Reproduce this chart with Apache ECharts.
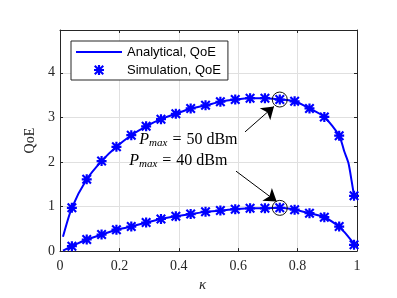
<!DOCTYPE html>
<html><head><meta charset="utf-8">
<script src="https://cdn.jsdelivr.net/npm/echarts@6/dist/echarts.min.js"></script>
<style>html,body{margin:0;padding:0;background:#fff}#c{width:397px;height:298px}</style>
</head><body><div id="c"></div>
<script>
// ---- data ----
const kappaSim = [0.04,0.09,0.14,0.19,0.24,0.29,0.34,0.39,0.44,0.49,0.54,0.59,0.64,0.69,0.74,0.79,0.84,0.89,0.94,0.99];
const qoe50Sim = [0.97,1.61,2.02,2.34,2.60,2.80,2.96,3.08,3.20,3.27,3.35,3.40,3.43,3.43,3.40,3.36,3.20,3.01,2.59,1.24];
const qoe40Sim = [0.11,0.26,0.37,0.48,0.55,0.64,0.72,0.78,0.83,0.88,0.91,0.94,0.96,0.96,0.97,0.93,0.85,0.76,0.55,0.14];
const kappaLine = [0.01,0.04,0.09,0.14,0.19,0.24,0.29,0.34,0.39,0.44,0.49,0.54,0.59,0.64,0.69,0.74,0.79,0.84,0.89,0.94,0.957,0.971,0.982,0.99];
const qoe50Line = [0.32,0.97,1.61,2.02,2.34,2.60,2.80,2.96,3.08,3.20,3.27,3.35,3.40,3.43,3.43,3.40,3.36,3.20,3.01,2.59,2.24,1.98,1.57,1.24];
const qoe40Line = [0.01,0.11,0.26,0.37,0.48,0.55,0.64,0.72,0.78,0.83,0.88,0.91,0.94,0.96,0.96,0.97,0.93,0.85,0.76,0.55,0.43,0.32,0.23,0.14];
const xTickLabels = ['0','0.2','0.4','0.6','0.8','1'];
const yTickLabels = ['0','1','2','3','4'];
const seriesNames = ['Analytical, QoE','Simulation, QoE'];
const annoText = ['50 dBm','40 dBm'];
// annotation anchors (data coords)
const peakIndex = 14;
const labelPos = [[0.267,2.49],[0.233,2.03]];
const arrows = [[[0.623,2.674],[0.7205,3.246]],[[0.5926,1.794],[0.7296,1.110]]];

const BLUE = '#0000ff', AX = '#262626';
const STAR = 'path://M0,3.9L10,3.9L10,6.1L0,6.1Z M3.9,0L6.1,0L6.1,10L3.9,10Z M1.5,0L10,8.5L8.5,10L0,1.5Z M8.5,0L10,1.5L1.5,10L0,8.5Z';
const LINEICON = 'path://M0,0L46,0L46,2L0,2Z';
const SERIF = 'Liberation Serif';
const zip = (xs, ys) => xs.map((x, i) => [x, ys[i]]);

const xBase = {type:'value', min:0, max:1, interval:0.2,
  axisLine:{show:true, onZero:false, lineStyle:{color:AX, width:1}},
  axisTick:{show:true, inside:true, length:3, lineStyle:{color:AX}}};
const yBase = {type:'value', min:0, max:4.96, interval:1,
  axisLine:{show:true, onZero:false, lineStyle:{color:AX, width:1}},
  axisTick:{show:true, inside:true, length:3, lineStyle:{color:AX}}};

const richStyle = {
  p:{fontFamily:SERIF, fontStyle:'italic', fontSize:16, lineHeight:18, color:'#000'},
  s:{fontFamily:SERIF, fontStyle:'italic', fontSize:11, lineHeight:10, verticalAlign:'bottom', color:'#000'},
  e:{fontFamily:SERIF, fontSize:16, lineHeight:18, color:'#000', padding:[0,5,0,5]},
  t:{fontFamily:SERIF, fontSize:16, lineHeight:18, color:'#000'}
};

const chart = echarts.init(document.getElementById('c'), null, {renderer:'canvas'});
chart.setOption({
  animation:false,
  backgroundColor:'#fff',
  grid:{left:60, right:40, top:30, bottom:46, containLabel:false},
  legend:{
    orient:'vertical', left:71, top:41, padding:[4,7,3,5],
    backgroundColor:'#fff', borderColor:AX, borderWidth:1, borderRadius:0,
    itemWidth:46, itemHeight:10, itemGap:4,
    textStyle:{fontFamily:'Liberation Sans', fontSize:13, color:'#000', lineHeight:14},
    data:[{name:seriesNames[0], icon:LINEICON, itemStyle:{color:BLUE}},
          {name:seriesNames[1], icon:STAR, itemStyle:{color:BLUE}}]
  },
  xAxis:[
    Object.assign({}, xBase, {position:'bottom',
      name:'κ', nameLocation:'middle', nameGap:25,
      nameTextStyle:{fontFamily:SERIF, fontStyle:'italic', fontSize:15, color:AX, padding:[0,12,0,0]},
      axisLabel:{margin:8, fontFamily:SERIF, fontSize:14, color:AX,
        formatter:v => xTickLabels[Math.round(v/0.2)] ?? ''},
      splitLine:{show:true, lineStyle:{color:'#e0e0e0', width:1}}}),
    Object.assign({}, xBase, {position:'top', axisLabel:{show:false}, splitLine:{show:false}})
  ],
  yAxis:[
    Object.assign({}, yBase, {position:'left',
      name:'QoE', nameLocation:'middle', nameGap:11,
      nameTextStyle:{fontFamily:SERIF, fontSize:14, color:AX},
      axisLabel:{margin:5, fontFamily:SERIF, fontSize:14, color:AX,
        formatter:v => (Number.isInteger(v) && yTickLabels[v] !== undefined) ? yTickLabels[v] : ''},
      splitLine:{show:true, lineStyle:{color:'#e0e0e0', width:1}}}),
    Object.assign({}, yBase, {position:'right', axisLabel:{show:false}, splitLine:{show:false}})
  ],
  series:[
    {name:seriesNames[0], type:'line', data:zip(kappaLine, qoe50Line), showSymbol:false, symbol:'none',
     smooth:0.25, lineStyle:{color:BLUE, width:2}, itemStyle:{color:BLUE}, z:2},
    {name:seriesNames[0], type:'line', data:zip(kappaLine, qoe40Line), showSymbol:false, symbol:'none',
     smooth:0.25, lineStyle:{color:BLUE, width:2}, itemStyle:{color:BLUE}, z:2},
    {name:seriesNames[1], type:'scatter', data:zip(kappaSim, qoe50Sim), symbol:STAR, symbolSize:10,
     itemStyle:{color:BLUE, opacity:1}, z:3,
     markPoint:{silent:true, animation:false, data:[
       {coord:[kappaSim[peakIndex], qoe50Sim[peakIndex]], symbol:'circle', symbolSize:15,
        itemStyle:{color:'rgba(0,0,0,0)', borderColor:'#111', borderWidth:1}, label:{show:false}},
       {coord:[kappaSim[peakIndex], qoe40Sim[peakIndex]], symbol:'circle', symbolSize:15,
        itemStyle:{color:'rgba(0,0,0,0)', borderColor:'#111', borderWidth:1}, label:{show:false}},
       {coord:labelPos[0], symbol:'circle', symbolSize:0,
        label:{show:true, position:'right', distance:0, formatter:'{p|P}{s|max}{e|=}{t|'+annoText[0]+'}', rich:richStyle}},
       {coord:labelPos[1], symbol:'circle', symbolSize:0,
        label:{show:true, position:'right', distance:0, formatter:'{p|P}{s|max}{e|=}{t|'+annoText[1]+'}', rich:richStyle}}
     ]},
     markLine:{silent:true, animation:false, symbol:['none','arrow'], symbolSize:12,
       lineStyle:{color:'#000', width:1, type:'solid'}, itemStyle:{color:'#000'}, label:{show:false},
       data:arrows.map(a => [{coord:a[0]},{coord:a[1]}])}
    },
    {name:seriesNames[1], type:'scatter', data:zip(kappaSim, qoe40Sim), symbol:STAR, symbolSize:10,
     itemStyle:{color:BLUE, opacity:1}, z:3}
  ]
});
</script></body></html>
